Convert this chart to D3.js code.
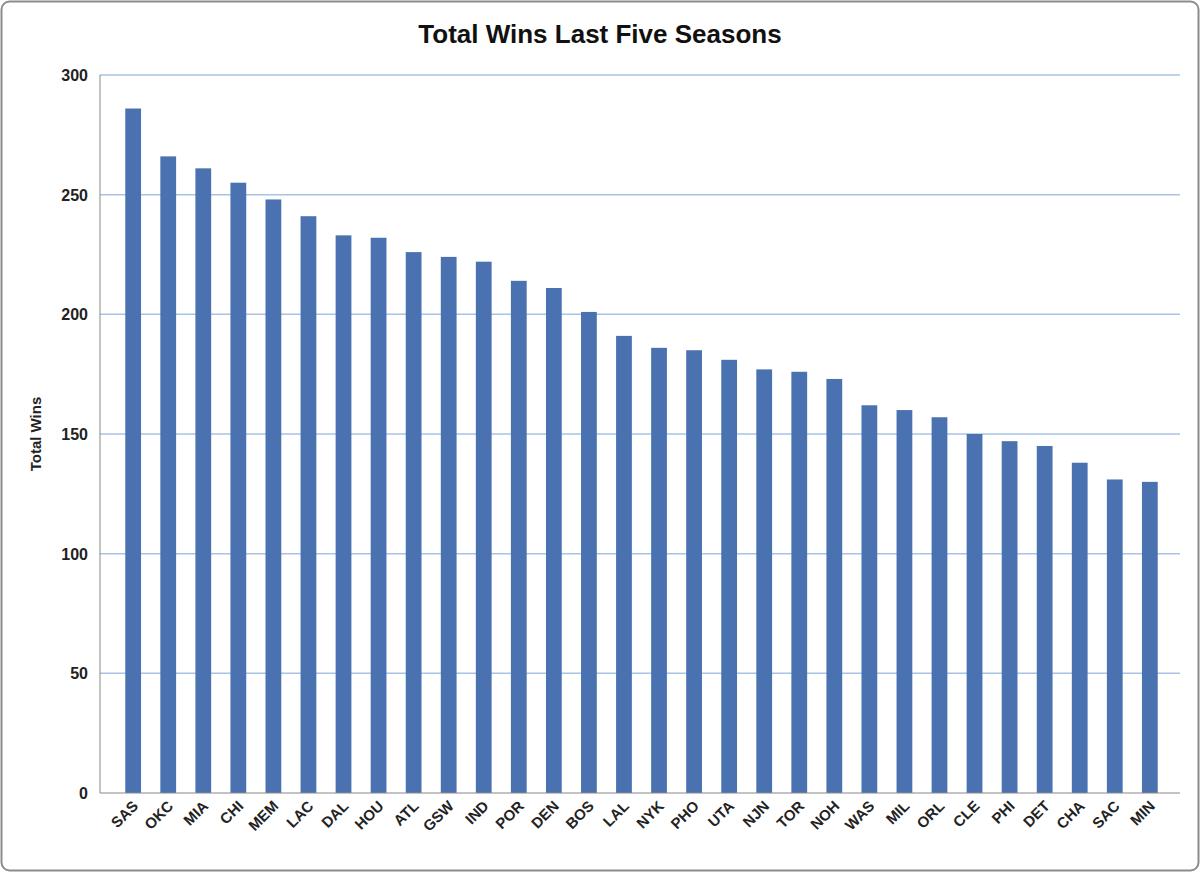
<!DOCTYPE html>
<html><head><meta charset="utf-8">
<script src="https://cdn.jsdelivr.net/npm/d3@7"></script>
<style>body{margin:0;background:#fff}svg{font-family:"Liberation Sans",Arial,sans-serif}</style>
</head><body><div id="chart"></div>
<script>
var teams = ["SAS","OKC","MIA","CHI","MEM","LAC","DAL","HOU","ATL","GSW","IND","POR","DEN","BOS","LAL","NYK","PHO","UTA","NJN","TOR","NOH","WAS","MIL","ORL","CLE","PHI","DET","CHA","SAC","MIN"];
var wins = [286,266,261,255,248,241,233,232,226,224,222,214,211,201,191,186,185,181,177,176,173,162,160,157,150,147,145,138,131,130];
var yTicks = [0,50,100,150,200,250,300];

const width = 1200, height = 872;
const plotLeft = 100, plotRight = 1180, plotTop = 75, plotBottom = 793;

const svg = d3.select("#chart").append("svg").attr("width", width).attr("height", height);

svg.append("rect").attr("x", 1.5).attr("y", 1.5).attr("width", width - 3).attr("height", height - 3)
    .attr("rx", 8).attr("fill", "#fff").attr("stroke", "#8c8c8c").attr("stroke-width", 2);

var x = d3.scaleBand().domain(teams).range([plotLeft + 6, plotRight - 3]).padding(0.55);
var y = d3.scaleLinear().domain([0, 300]).range([plotBottom, plotTop]);

// grid
svg.selectAll("line.grid").data(yTicks.slice(1)).enter().append("line")
    .attr("x1", plotLeft).attr("x2", plotRight)
    .attr("y1", d => y(d)).attr("y2", d => y(d))
    .attr("stroke", "#a8c3e6").attr("stroke-width", 1.5);

svg.selectAll("rect.bar").data(wins).enter().append("rect")
    .attr("x", (d, i) => x(teams[i])).attr("width", x.bandwidth())
    .attr("y", d => y(d)).attr("height", d => plotBottom - y(d))
    .attr("fill", "#4a72b0");

// axes lines
svg.append("line").attr("x1", plotLeft).attr("x2", plotLeft).attr("y1", plotTop).attr("y2", plotBottom).attr("stroke", "#888");
svg.append("line").attr("x1", plotLeft).attr("x2", plotRight).attr("y1", plotBottom).attr("y2", plotBottom).attr("stroke", "#888");

svg.selectAll("text.ytick").data(yTicks).enter().append("text")
    .attr("x", plotLeft - 12).attr("y", d => y(d) + 6)
    .attr("text-anchor", "end").attr("font-size", 16).attr("font-weight", "bold").attr("fill", "#222")
    .text(d => d);

svg.selectAll("text.xtick").data(teams).enter().append("text")
    .attr("transform", d => `translate(${x(d) + x.bandwidth() / 2 + 6},${plotBottom + 14}) rotate(-45)`)
    .attr("text-anchor", "end").attr("font-size", 15).attr("font-weight", "bold").attr("fill", "#222")
    .text(d => d);

svg.append("text").attr("x", 600).attr("y", 43).attr("text-anchor", "middle")
    .attr("font-size", 26).attr("font-weight", "bold").attr("fill", "#111")
    .text("Total Wins Last Five Seasons");

svg.append("text").attr("transform", "translate(41,434) rotate(-90)").attr("text-anchor", "middle")
    .attr("font-size", 15).attr("font-weight", "bold").attr("fill", "#222")
    .text("Total Wins");
</script></body></html>
